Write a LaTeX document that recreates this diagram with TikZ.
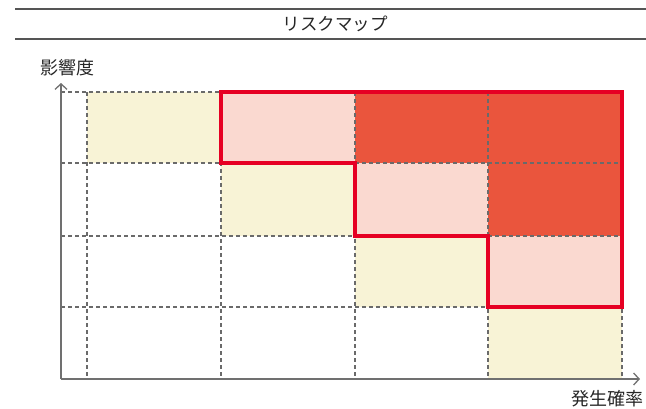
\documentclass[tikz,border=0pt]{standalone}
\usepackage{fontspec}
\setmainfont{Noto Sans CJK JP}
\usetikzlibrary{arrows.meta}
\definecolor{cellred}{HTML}{EA553D}
\definecolor{cellpink}{HTML}{FAD9D0}
\definecolor{cellyellow}{HTML}{F8F3D6}
\definecolor{borderred}{HTML}{E60023}
\definecolor{axisgray}{HTML}{707070}
\definecolor{gridgray}{HTML}{6A6A6A}
\definecolor{titlegray}{HTML}{555555}
\tikzset{
  lbl/.style={font=\fontsize{18}{18}\selectfont, text=black!85, inner sep=0pt},
  gridline/.style={draw=gridgray, line width=1.1pt, dash pattern=on 4pt off 3pt},
  axisline/.style={draw=axisgray, line width=1.3pt, -{Straight Barb[length=5.5pt,width=12pt]}},
  ruleline/.style={draw=titlegray, line width=1.4pt},
  riskborder/.style={draw=borderred, line width=3.6pt, line join=miter},
}
\begin{document}
\begin{tikzpicture}[x=1pt,y=-1pt]
\useasboundingbox (0,0) rectangle (646,408);
% title rules
\draw[ruleline] (15,9) -- (646,9);
\draw[ruleline] (15,39) -- (646,39);
\node[lbl, font=\fontsize{17.5}{17.5}\selectfont] (title) at (335,24) {リスクマップ};
% cells: columns x 87,221,355,488,622 ; rows y 92,163,236,307,379
\fill[cellyellow] (87,92) rectangle (221,163);
\fill[cellpink] (221,92) rectangle (355,163);
\fill[cellred] (355,92) rectangle (622,163);
\fill[cellyellow] (221,163) rectangle (355,236);
\fill[cellpink] (355,163) rectangle (488,236);
\fill[cellred] (488,163) rectangle (622,236);
\fill[cellyellow] (355,236) rectangle (488,307);
\fill[cellpink] (488,236) rectangle (622,307);
\fill[cellyellow] (488,307) rectangle (622,379);
% grid
\foreach \yy in {92,163,236,307} \draw[gridline] (61,\yy) -- (622,\yy);
\foreach \xx in {87,221,355,488,622} \draw[gridline] (\xx,92) -- (\xx,379);
% risk border
\draw[riskborder] (221,92) -- (622,92) -- (622,307) -- (488,307) -- (488,236) -- (355,236) -- (355,163) -- (221,163) -- cycle;
% axes
\coordinate (origin) at (61,379);
\coordinate (ytip) at (61,83);
\coordinate (xtip) at (640,379);
\draw[axisline] (origin) -- (ytip);
\draw[axisline] (origin) -- (xtip);
\node[lbl] (ylabel) at (68,68) {影響度};
\node[lbl] (xlabel) at (607,399) {発生確率};
\end{tikzpicture}
\end{document}
